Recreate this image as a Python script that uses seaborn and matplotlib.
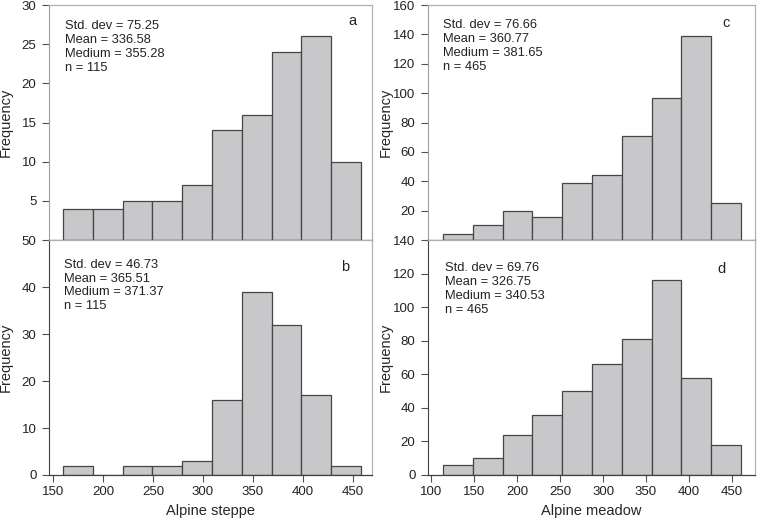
import numpy as np
import pandas as pd
import seaborn as sns
import matplotlib.pyplot as plt

# bin edges
steppe_edges = [160.3, 190.0, 219.7, 249.5, 279.3, 309.1, 338.8, 368.6, 398.4, 428.2, 458.0]
meadow_edges = [113.6, 148.3, 183.0, 217.7, 252.4, 287.1, 321.8, 356.5, 391.2, 425.9, 460.6]

# counts per bin
counts_a = [4, 4, 5, 5, 7, 14, 16, 24, 26, 10]
counts_b = [2, 0, 2, 2, 3, 16, 39, 32, 17, 2]
counts_c = [4, 10, 20, 16, 39, 44, 71, 97, 139, 25]
counts_d = [6, 10, 24, 36, 50, 66, 81, 116, 58, 18]

stats_a = "Std. dev = 75.25\nMean = 336.58\nMedium = 355.28\nn = 115"
stats_b = "Std. dev = 46.73\nMean = 365.51\nMedium = 371.37\nn = 115"
stats_c = "Std. dev = 76.66\nMean = 360.77\nMedium = 381.65\nn = 465"
stats_d = "Std. dev = 69.76\nMean = 326.75\nMedium = 340.53\nn = 465"

sns.set_style("white")
plt.rcParams['font.family'] = ['Liberation Sans', 'DejaVu Sans']

fig = plt.figure(figsize=(7.57, 5.21), dpi=100)
ax_a = fig.add_axes([0.0647, 0.5393, 0.4267, 0.451])
ax_b = fig.add_axes([0.0647, 0.0883, 0.4267, 0.451])
ax_c = fig.add_axes([0.5654, 0.5393, 0.432, 0.451])
ax_d = fig.add_axes([0.5654, 0.0883, 0.432, 0.451])

# (axes, edges, counts, stats, letter, xlim, ylim, yticks, is_top, stats_xy, letter_xy, ylabel_x)
panels = [
    (ax_a, steppe_edges, counts_a, stats_a, 'a', (146, 469), (0, 30), np.arange(5, 31, 5), True,
     (0.05, 0.935), (0.938, 0.96), -0.111),
    (ax_b, steppe_edges, counts_b, stats_b, 'b', (146, 469), (0, 50), np.arange(0, 51, 10), False,
     (0.046, 0.92), (0.916, 0.915), -0.111),
    (ax_c, meadow_edges, counts_c, stats_c, 'c', (96.2, 477), (0, 160), np.arange(20, 161, 20), True,
     (0.046, 0.94), (0.911, 0.955), -0.107),
    (ax_d, meadow_edges, counts_d, stats_d, 'd', (96.2, 477), (0, 140), np.arange(0, 141, 20), False,
     (0.052, 0.905), (0.896, 0.905), -0.107),
]

for ax, edges, counts, stats, letter, xlim, ylim, yticks, top, sxy, lxy, ylx in panels:
    centers = [(lo + hi) / 2 for lo, hi in zip(edges[:-1], edges[1:])]
    df = pd.DataFrame({'x': centers, 'n': counts})
    sns.histplot(data=df, x='x', weights='n', bins=list(edges), ax=ax,
                 color='#c8c8ca', edgecolor='#454545', linewidth=0.9, alpha=1)
    ax.set_xlim(*xlim)
    ax.set_ylim(*ylim)
    ax.set_yticks(yticks)
    ax.set_ylabel('Frequency', fontsize=10.5)
    ax.yaxis.set_label_coords(ylx, 0.5)
    ax.tick_params(axis='y', left=True, length=5, width=0.8, color='#505050',
                   labelsize=9.5, pad=4, labelcolor='#222222')
    for s in ['top', 'right']:
        ax.spines[s].set_color('#b0b0b0')
        ax.spines[s].set_linewidth(0.9)
    ax.spines['left'].set_color('#404040')
    ax.spines['bottom'].set_color('#404040')
    ax.spines['left'].set_linewidth(0.8)
    ax.spines['bottom'].set_linewidth(0.9)
    if top:
        ax.set_xticks([])
        ax.set_xlabel('')
        ax.spines['left'].set_color('#a0a0a0')
    else:
        ax.tick_params(axis='x', bottom=True, length=5, width=0.8, color='#505050',
                       labelsize=9.5, pad=3, labelcolor='#222222')
    ax.text(sxy[0], sxy[1], stats, transform=ax.transAxes, ha='left', va='top',
            fontsize=9.3, linespacing=1.2, color='#222222')
    ax.text(lxy[0], lxy[1], letter, transform=ax.transAxes, ha='center', va='top',
            fontsize=10.5, color='#222222')

ax_b.set_xticks([150, 200, 250, 300, 350, 400, 450])
ax_d.set_xticks([100, 150, 200, 250, 300, 350, 400, 450])
ax_b.set_xlabel('Alpine steppe', fontsize=10.5, labelpad=4)
ax_d.set_xlabel('Alpine meadow', fontsize=10.5, labelpad=4)

fig.savefig('out.png', dpi=100)
